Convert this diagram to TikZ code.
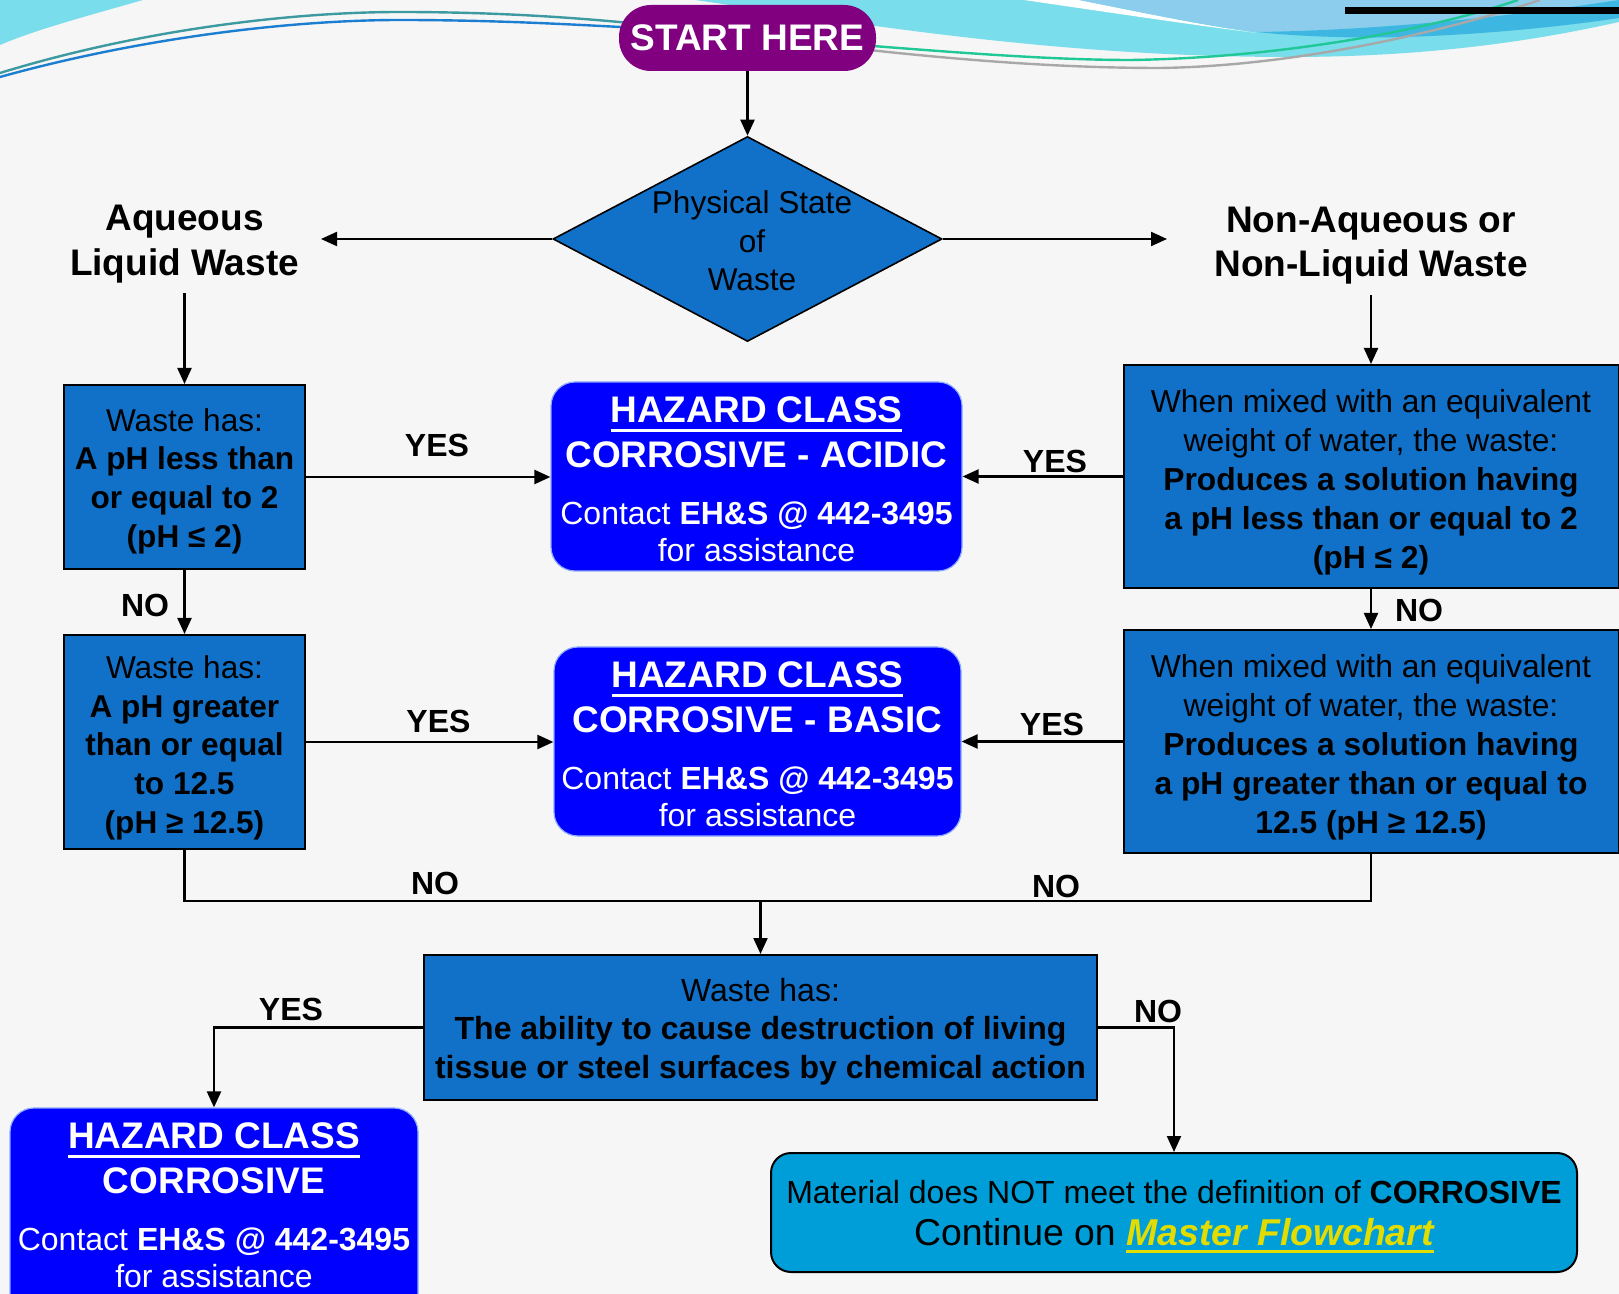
\documentclass[tikz,border=0pt]{standalone}
\usepackage{fontspec}
\setmainfont{Liberation Sans}
\usetikzlibrary{shapes.geometric,arrows.meta}
\definecolor{bgc}{RGB}{246,246,246}
\definecolor{boxblue}{RGB}{17,112,200}
\definecolor{hzblue}{RGB}{0,0,255}
\definecolor{hzedge}{RGB}{140,170,255}
\definecolor{startpurple}{RGB}{128,0,128}
\definecolor{notcblue}{RGB}{0,158,216}
\definecolor{linkyellow}{RGB}{226,220,0}
\definecolor{wavecyan}{RGB}{122,221,235}
\definecolor{wavelight}{RGB}{140,205,238}
\definecolor{wavedark}{RGB}{62,182,226}
\definecolor{lineteal}{RGB}{60,154,160}
\definecolor{lineblue}{RGB}{28,126,208}
\definecolor{linegreen}{RGB}{31,200,150}
\definecolor{linegrey}{RGB}{168,168,168}
\newcommand{\myul}[3]{\setbox0=\hbox{#3}\rlap{\textcolor{#1}{\rule[#2]{\wd0}{1.6pt}}}\box0}
\newcommand{\hzhead}{\fontsize{18.5}{22.5}\selectfont\bfseries}
\newcommand{\hzbody}{\fontsize{16}{18.5}\selectfont\mdseries}
\newcommand{\tops}[1]{\rule{0pt}{#1}}
\tikzset{
  arr/.style={draw=black, line width=1.1pt, -{Triangle[length=8pt,width=7pt]}},
  conn/.style={draw=black, line width=1.1pt},
  procbox/.style={draw=black, line width=1pt, fill=boxblue, align=center, inner sep=0pt, text=black},
  boxfont/.style={font=\fontsize{15.8}{19.4}\selectfont},
  rboxfont/.style={font=\fontsize{15.9}{19.4}\selectfont},
  hazard/.style={draw=hzedge, line width=0.6pt, fill=hzblue, rounded corners=12pt, align=center, inner sep=0pt, text=white, font=\hzhead},
  startbox/.style={fill=startpurple, rounded corners=16pt, text=white, inner sep=0pt, font=\fontsize{18.5}{22}\selectfont\bfseries},
  decision/.style={diamond, draw=black, line width=0.8pt, fill=boxblue, inner sep=0pt},
  headlbl/.style={font=\fontsize{18.5}{22.3}\selectfont\bfseries, align=center, inner sep=5pt},
  lbl/.style={font=\fontsize{16}{18}\selectfont\bfseries, anchor=base, inner sep=0pt},
}
\begin{document}
\begin{tikzpicture}[x=0.5pt,y=-0.5pt]
\useasboundingbox (0,0) rectangle (1619,1294);
\fill[bgc] (0,0) rectangle (1619,1294);
% decorative waves
\fill[wavecyan] (0,0) -- (143,0) .. controls (80,18) and (35,30) .. (0,45) -- cycle;
\fill[wavecyan] (695,0) .. controls (850,22) and (1050,57) .. (1290,57) .. controls (1450,57) and (1560,35) .. (1619,22) -- (1619,0) -- cycle;
\fill[white] (1024,0) .. controls (1120,14) and (1200,26) .. (1257,33) .. controls (1200,25) and (1140,12) .. (1079,0) -- cycle;
\fill[wavelight] (1079,0) .. controls (1140,12) and (1200,25) .. (1257,32) .. controls (1400,30) and (1540,12) .. (1619,0) -- cycle;
\fill[wavedark] (1257,32) .. controls (1400,30) and (1540,12) .. (1619,0) -- (1619,18) .. controls (1540,30) and (1420,40) .. (1336,37) .. controls (1300,36) and (1275,34) .. (1257,32) -- cycle;
\draw[lineteal, line width=1.2pt] (0,73) .. controls (140,30) and (290,12) .. (400,12) .. controls (500,12) and (580,18) .. (640,24);
\draw[lineblue, line width=1.2pt] (0,77) .. controls (140,38) and (290,20) .. (400,20) .. controls (500,20) and (580,25) .. (640,28);
\draw[linegreen, line width=1.2pt] (860,45) .. controls (950,52) and (1050,60) .. (1130,60) .. controls (1280,58) and (1430,30) .. (1518,0);
\draw[linegrey, line width=1.2pt] (860,49) .. controls (960,60) and (1060,68) .. (1160,68) .. controls (1300,66) and (1450,30) .. (1540,0);
\fill[black] (1345,7) rectangle (1619,14);

% nodes
\node[startbox, minimum width=128.5pt, minimum height=33pt] (start) at (747.5,38) {START HERE};
\node[decision, minimum width=194.5pt, minimum height=102.5pt] (state) at (747.5,239) {};
\node[font=\fontsize{15.8}{19.2}\selectfont, align=center, inner sep=0pt] (statetxt) at (752,241) {Physical State\\of\\Waste};
\node[headlbl] (aq) at (184.5,244) {Aqueous\\Liquid Waste};
\node[headlbl] (nonaq) at (1371,245.5) {Non-Aqueous or\\Non-Liquid Waste};
\coordinate (aqin) at (321,239);
\coordinate (nonaqin) at (1167,239);

\node[procbox, boxfont, minimum width=120.5pt, minimum height=92pt] (b1) at (184.5,477)
  {\tops{15.5pt}Waste has:\\\textbf{A pH less than}\\\textbf{or equal to 2}\\\textbf{(pH ≤ 2)}};
\node[procbox, boxfont, minimum width=120.5pt, minimum height=107pt] (b2) at (184.5,742)
  {\tops{17.2pt}Waste has:\\\textbf{A pH greater}\\\textbf{than or equal}\\\textbf{to 12.5}\\\textbf{(pH ≥ 12.5)}};

\node[hazard, minimum width=205.5pt, minimum height=94.5pt] (acid) at (756.5,476.5)
  {\tops{15.3pt}\myul{white}{-5pt}{HAZARD CLASS}\\CORROSIVE - ACIDIC\\[6pt]{\hzbody Contact \textbf{EH\&S @ 442-3495}}\\[-4pt]{\hzbody for assistance}};
\node[hazard, minimum width=203.5pt, minimum height=94.5pt] (basic) at (757.5,741.5)
  {\tops{15.3pt}\myul{white}{-5pt}{HAZARD CLASS}\\CORROSIVE - BASIC\\[6pt]{\hzbody Contact \textbf{EH\&S @ 442-3495}}\\[-4pt]{\hzbody for assistance}};

\node[procbox, rboxfont, minimum width=247.5pt, minimum height=111.5pt] (r1) at (1371,476.5)
  {\tops{17.3pt}When mixed with an equivalent\\weight of water, the waste:\\\textbf{Produces a solution having}\\\textbf{a pH less than or equal to 2}\\\textbf{(pH ≤ 2)}};
\node[procbox, rboxfont, minimum width=247.5pt, minimum height=111.5pt] (r2) at (1371,741.5)
  {\tops{17.3pt}When mixed with an equivalent\\weight of water, the waste:\\\textbf{Produces a solution having}\\\textbf{a pH greater than or equal to}\\\textbf{12.5 (pH ≥ 12.5)}};

\coordinate (jn) at (760.5,901);
\node[procbox, font=\fontsize{16}{19.1}\selectfont, minimum width=336.5pt, minimum height=72.5pt] (abil) at (760.5,1027.5)
  {\tops{15.7pt}Waste has:\\\textbf{The ability to cause destruction of living}\\\textbf{tissue or steel surfaces by chemical action}};

\node[hazard, minimum width=204pt, minimum height=110pt] (hc) at (214,1218) {};
\node[align=center, text=white, inner sep=0pt, font=\hzhead] (hct) at (214,1205)
  {\myul{white}{-5pt}{HAZARD CLASS}\\CORROSIVE\\[6pt]{\hzbody Contact \textbf{EH\&S @ 442-3495}}\\[-4pt]{\hzbody for assistance}};

\node[draw=black, line width=1pt, fill=notcblue, rounded corners=10pt, minimum width=403pt, minimum height=59.5pt, align=center, inner sep=0pt, font=\fontsize{16}{21}\selectfont] (notc) at (1174,1212.5)
  {\tops{15.7pt}Material does NOT meet the definition of \textbf{CORROSIVE}\\{\fontsize{18.7}{21}\selectfont Continue on \textcolor{linkyellow}{\bfseries\itshape\myul{linkyellow}{-4pt}{Master Flowchart}}}};

% connectors
\draw[arr] (start) -- (state);
\draw[arr] (state.west) -- (aqin);
\draw[arr] (state.east) -- (nonaqin);
\draw[arr] (aq.south) -- (b1.north);
\draw[arr] (nonaq.south) -- (r1.north);
\draw[arr] (b1.east) -- (b1.east -| acid.west);
\draw[arr] (r1.west) -- (r1.west -| acid.east);
\draw[arr] (b2.east) -- (b2.east -| basic.west);
\draw[arr] (r2.west) -- (r2.west -| basic.east);
\draw[arr] (b1.south) -- (b2.north);
\draw[arr] (r1.south) -- (r2.north);
\draw[conn] (b2.south) |- (jn) -| (r2.south);
\draw[arr] (jn) -- (abil.north);
\draw[arr] (abil.west) -| (hc.north);
\draw[arr] (abil.east) -| (notc.north);

% labels
\node[lbl] (yes1) at (437,457) {YES};
\node[lbl] (yes2) at (438.5,733) {YES};
\node[lbl] (yes3) at (1055,473) {YES};
\node[lbl] (yes4) at (1052,736) {YES};
\node[lbl] (no1) at (145,617) {NO};
\node[lbl] (no2) at (1419,622) {NO};
\node[lbl] (no3) at (435,894) {NO};
\node[lbl] (no4) at (1056,897) {NO};
\node[lbl] (yes5) at (291,1020) {YES};
\node[lbl] (no5) at (1158,1022) {NO};
\end{tikzpicture}
\end{document}
